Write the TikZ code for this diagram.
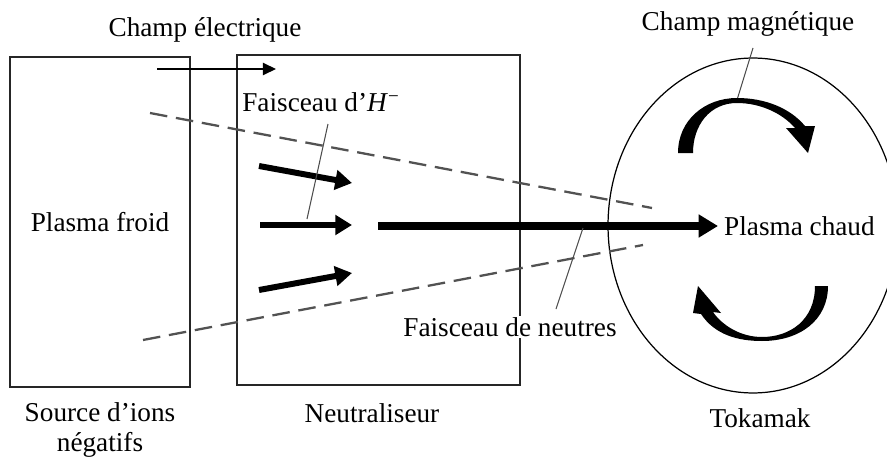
\documentclass[tikz,border=0pt]{standalone}
\usepackage{fontspec}
\setmainfont{Liberation Serif}
\usetikzlibrary{arrows.meta, positioning, shapes.geometric}

\begin{document}
\begin{tikzpicture}[
  x=0.02cm, y=-0.02cm,
  lbl/.style={font=\fontsize{15.5}{17}\selectfont, align=center},
  box/.style={draw=black!85, line width=0.9pt, minimum width=3.6cm,
              minimum height=6.6cm, inner sep=0pt},
  beam/.style={line width=3.4pt, -{Triangle[length=9.5pt, width=11pt]}},
  bigbeam/.style={line width=4.2pt, -{Triangle[length=11pt, width=12.5pt]}},
  dashline/.style={draw=black!68, line width=1.3pt, dash pattern=on 10pt off 5pt},
  leader/.style={draw=black!70, line width=0.6pt},
  field/.style={line width=0.8pt, -{Triangle[length=7.5pt, width=7pt]}}
]
  \useasboundingbox (0,0) rectangle (887,463);
  \node[box, lbl] (src) at (100,222) {Plasma froid};
  \node[box, minimum width=5.66cm] (neut) at (378.5,220) {};
  \node[ellipse, draw, line width=0.7pt, minimum width=5.8cm, minimum height=6.7cm,
        inner sep=0pt] (tok) at (753,225.5) {};

  \node[lbl] (srclbl) at (100,430) {Source d’ions\\négatifs};
  \node[lbl] (neutlbl) at (372,413) {Neutraliseur};
  \node[lbl] (toklbl) at (760,418) {Tokamak};
  \node[lbl] (efield) at (205,30) {Champ électrique};
  \node[lbl] (bfield) at (748,24) {Champ magnétique};
  \node[lbl] (hbeam) at (321,102) {Faisceau d’\textit{H}\textsuperscript{−}};
  \node[lbl, fill=white, inner sep=1pt] (nbeam) at (510,327) {Faisceau de neutres};
  \node[lbl, anchor=west] (chaud) at (718,226) {Plasma chaud};

  \coordinate (ea) at (157,69);  \coordinate (eb) at (276,69);
  \coordinate (h1a) at (259,166); \coordinate (h1b) at (352,183);
  \coordinate (h2a) at (260,225); \coordinate (h2b) at (352,225);
  \coordinate (h3a) at (259,290); \coordinate (h3b) at (352,273);
  \coordinate (bstart) at (378,226);
  \coordinate (up1) at (150,113); \coordinate (up2) at (652,208);
  \coordinate (lo1) at (143,340); \coordinate (lo2) at (643,245);
  \coordinate (hl1) at (328,124); \coordinate (hl2) at (307,219);
  \coordinate (bl1) at (753,48);  \coordinate (bl2) at (737,100);
  \coordinate (nl1) at (556,309); \coordinate (nl2) at (583,228);

  \draw[dashline] (up1) -- (up2);
  \draw[dashline] (lo1) -- (lo2);
  \draw[field] (ea) -- (eb);
  \draw[beam] (h1a) -- (h1b);
  \draw[beam] (h2a) -- (h2b);
  \draw[beam] (h3a) -- (h3b);
  \draw[bigbeam] (bstart) -- (chaud.west);
  \draw[leader] (hl1) -- (hl2);
  \draw[leader] (bl1) -- (bl2);
  \draw[leader] (nl1) -- (nl2);

  \fill (678,153) .. controls (678,120) and (705,98) .. (737,98)
    .. controls (765,98) and (790,108) .. (805,126)
    -- (815,126) -- (808,153) -- (786,128) -- (795,128)
    .. controls (782,113) and (760,103) .. (737,103)
    .. controls (710,103) and (693,125) .. (693,153) -- cycle;
  \fill (828,286) .. controls (828,320) and (800,341) .. (762,341)
    .. controls (738,341) and (715,335) .. (701,314)
    -- (693,313) -- (698,286) -- (721,313) -- (713,312)
    .. controls (722,325) and (740,337) .. (762,337)
    .. controls (790,337) and (815,320) .. (815,286) -- cycle;
\end{tikzpicture}
\end{document}
